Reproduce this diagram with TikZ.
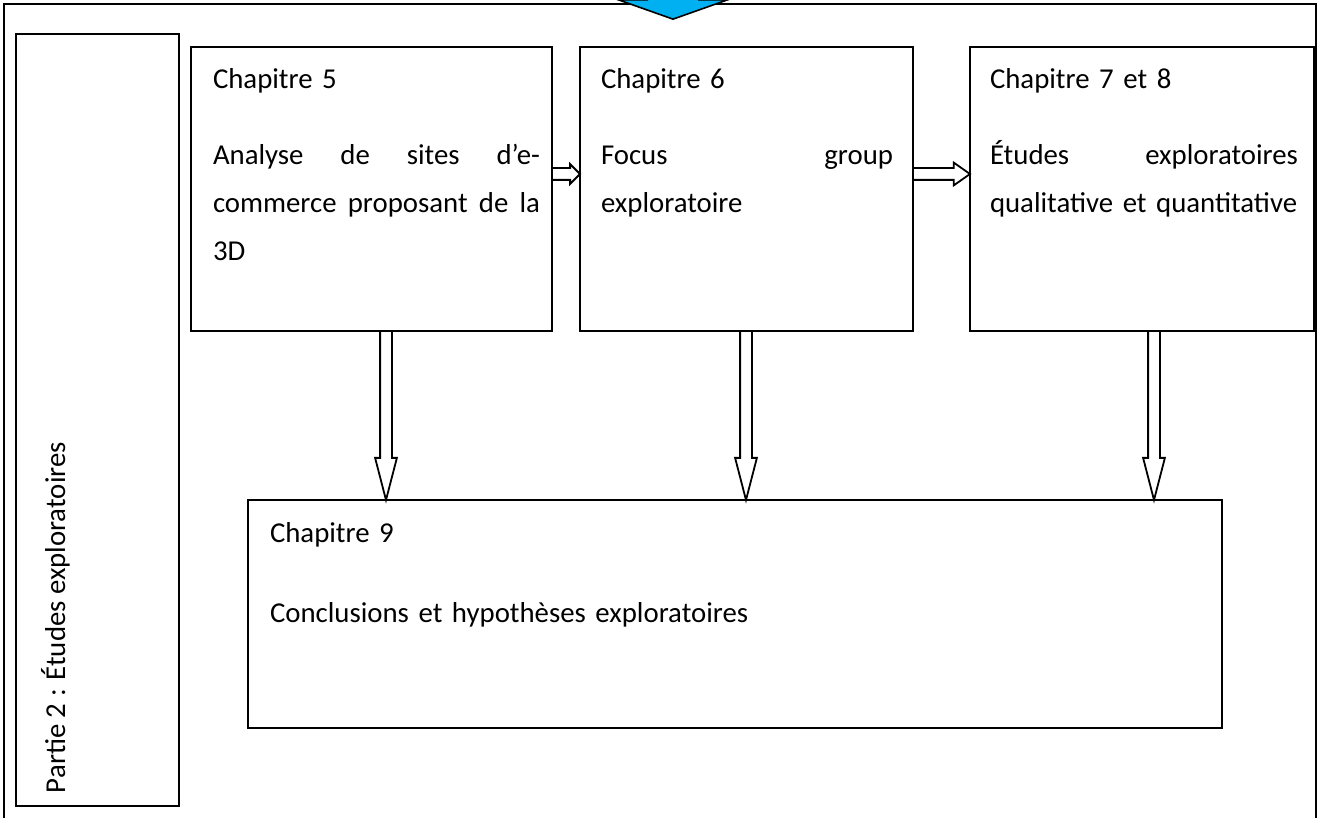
\documentclass[tikz,border=0pt]{standalone}
\usepackage{fontspec}
\setmainfont{Carlito}
\usepackage{tikz}
\usetikzlibrary{shapes.arrows,calc}
\definecolor{sky1} {RGB} {0, 176, 240}
\newcommand{\jgap}{\hskip 0pt plus 1filll\relax}
\tikzstyle{chbox}=[
  draw, line width=1pt, rectangle, inner sep=0pt, outer sep=0pt, anchor=north west
]
\tikzstyle{chtext}=[
  inner sep=0pt, outer sep=0pt, anchor=base west, align=left, font=\fontsize{14.4}{24}\selectfont
]
\tikzstyle{hollow}=[
  draw, single arrow, line width=0.9pt, inner xsep=0pt, inner ysep=2.5pt, outer sep=0pt,
  single arrow head indent=0pt, anchor=tail
]
\begin{document}
\begin{tikzpicture}[x=0.5pt, y=-0.5pt]
  \useasboundingbox (0,0) rectangle (1318,818);
  \clip (0,0) rectangle (1318,818);
  \node[chbox, minimum width=656pt, minimum height=413pt] (frame) at (4,4) {};
  \node[chbox, minimum width=81.5pt, minimum height=386pt] (part) at (16,34) {};
  \node[chbox, minimum width=180.5pt, minimum height=142pt] (c5) at (191,47) {};
  \node[chbox, minimum width=166.5pt, minimum height=142pt] (c6) at (580,47) {};
  \node[chbox, minimum width=172pt, minimum height=142pt] (c7) at (970,47) {};
  \node[chbox, minimum width=487pt, minimum height=114pt] (c9) at (248,500) {};

  \node[chtext, rotate=90] (parttext) at ($(part.south west)+(49,-13)$) {Partie 2 : Études exploratoires};
  \node[chtext, text width=163.5pt] (t5) at ($(c5.north west)+(22,42)$)
    {Chapitre 5\\[14pt]Analyse\jgap de\jgap sites\jgap d’e-\\commerce\jgap proposant\jgap de\jgap la\\3D};
  \node[chtext, text width=146pt] (t6) at ($(c6.north west)+(21,42)$)
    {Chapitre 6\\[14pt]Focus\jgap group\\exploratoire};
  \node[chtext, text width=154pt] (t7) at ($(c7.north west)+(20,42)$)
    {Chapitre 7 et 8\\[14pt]Études\jgap exploratoires\\qualitative et quantitative};
  \node[chtext, text width=440pt] (t9) at ($(c9.north west)+(22,42)$)
    {Chapitre 9\\[16pt]Conclusions et hypothèses exploratoires};

  \node[hollow, minimum height=14pt, single arrow head extend=2pt,
    single arrow tip angle=90] (r56) at ($(c5.north east)+(0,127)$) {};
  \node[hollow, minimum height=28.5pt, single arrow head extend=2.75pt,
    single arrow tip angle=70] (r67) at ($(c6.north east)+(0,127)$) {};
  \node[hollow, rotate=-90, minimum height=84.5pt, single arrow head extend=2.5pt,
    single arrow tip angle=29] (d5) at ($(c5.south west)+(195,0)$) {};
  \node[hollow, rotate=-90, minimum height=84.5pt, single arrow head extend=2.5pt,
    single arrow tip angle=29] (d6) at ($(c6.south west)+(166,0)$) {};
  \node[hollow, rotate=-90, minimum height=84.5pt, single arrow head extend=2.5pt,
    single arrow tip angle=29] (d7) at ($(c7.south west)+(184,0)$) {};

  \node[draw, single arrow, fill=sky1, line width=0.8pt, inner xsep=0pt, inner ysep=12.5pt, rotate=-90,
    minimum height=30pt, single arrow head extend=14.25pt,
    single arrow tip angle=141, anchor=tip] (intro) at (673,20) {};
\end{tikzpicture}
\end{document}
